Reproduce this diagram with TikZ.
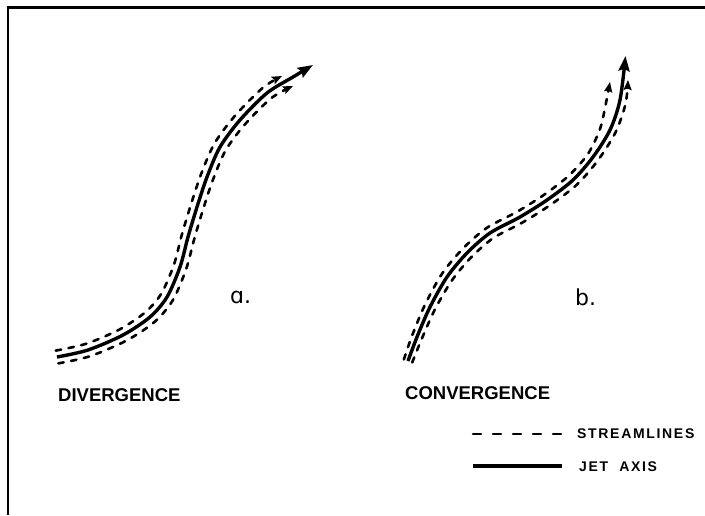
\documentclass[tikz,border=0pt]{standalone}
\usepackage{fontspec}
\setmainfont{Liberation Sans}
\newfontfamily\alphafont{DejaVu Sans}
\newfontfamily\legendfont{Liberation Sans}[LetterSpace=12, UprightFont={* Bold}]
\usetikzlibrary{arrows.meta}

\begin{document}
\begin{tikzpicture}[x=1pt, y=-1pt,
  jetaxis/.style={line width=3.4pt, -{Stealth[length=15pt,width=11pt,inset=2pt]}},
  streamline/.style={line width=2.6pt, line cap=round, dash pattern=on 5.5pt off 7.5pt, -{Stealth[length=10pt,width=8pt,inset=1.5pt]}},
  caption/.style={anchor=west, inner sep=0pt, font=\bfseries\fontsize{18.5}{20}\selectfont},
  legendtext/.style={anchor=west, inner sep=0pt, font=\legendfont\fontsize{14}{16}\selectfont},
  panel/.style={anchor=base west, inner sep=0pt, font=\alphafont\fontsize{22}{24}\selectfont}]
  \useasboundingbox (0,0) rectangle (705,515);
  \draw[line width=2.2pt] (705,7.5) -- (8,7.5) -- (8,515);
  % a. divergence
  \draw[streamline] plot[smooth] coordinates {(55.7,350.6) (86.3,343.7) (120.0,329.2) (145.7,311.9) (161.3,293.6) (173.9,264.8) (181.7,235.2) (190.8,205.0) (200.9,174.6) (214.4,143.6) (235.1,115.6) (262.8,87.8) (282,76)};
  \draw[streamline] plot[smooth] coordinates {(58.3,363.4) (89.7,356.3) (126.0,340.8) (154.3,322.1) (172.7,300.4) (186.1,269.2) (194.3,238.8) (203.2,209.0) (213.1,179.4) (225.6,150.4) (244.9,124.4) (271.2,98.2) (293,86)};
  \draw[jetaxis] plot[smooth] coordinates {(57,357) (88,350) (123,335) (150,317) (167,297) (180,267) (188,237) (197,207) (207,177) (220,147) (240,120) (267,93) (293,77) (313,65)};
  % b. convergence
  \draw[streamline] plot[smooth] coordinates {(403.8,359.5) (412.3,335.1) (425.1,304.5) (442.1,273.6) (462.7,248.8) (486.6,228.0) (517.0,211.8) (543.6,195.1) (568.9,175.6) (588.2,153.5) (600,129) (605,108) (610,82)};
  \draw[streamline] plot[smooth] coordinates {(412.2,362.5) (421.7,338.9) (434.9,309.5) (451.9,280.4) (471.3,257.2) (493.4,238.0) (523.0,222.2) (550.4,204.9) (577.1,184.4) (597.8,160.5) (615.4,132.6) (625.5,104) (628,80)};
  \draw[jetaxis] plot[smooth] coordinates {(408,361) (417,337) (430,307) (447,277) (467,253) (490,233) (520,217) (547,200) (573,180) (593,157) (610,130) (620,100) (625.5,56)};
  \node[panel] (pa) at (230,303) {ɑ.};
  \node[panel] (pb) at (575,305) {b.};
  \node[caption] (div) at (58,395) {DIVERGENCE};
  \node[caption] (conv) at (405,393) {CONVERGENCE};
  % legend
  \coordinate (s0) at (473,434);
  \coordinate (s1) at (562,434);
  \coordinate (j0) at (473,466);
  \coordinate (j1) at (562,466);
  \draw[streamline, -, dash pattern=on 8pt off 12pt] (s0) -- (s1);
  \draw[jetaxis, -] (j0) -- (j1);
  \node[legendtext] (sl) at (577,434) {STREAMLINES};
  \node[legendtext] (ja) at (579,467) {JET\ \ AXIS};
\end{tikzpicture}
\end{document}
